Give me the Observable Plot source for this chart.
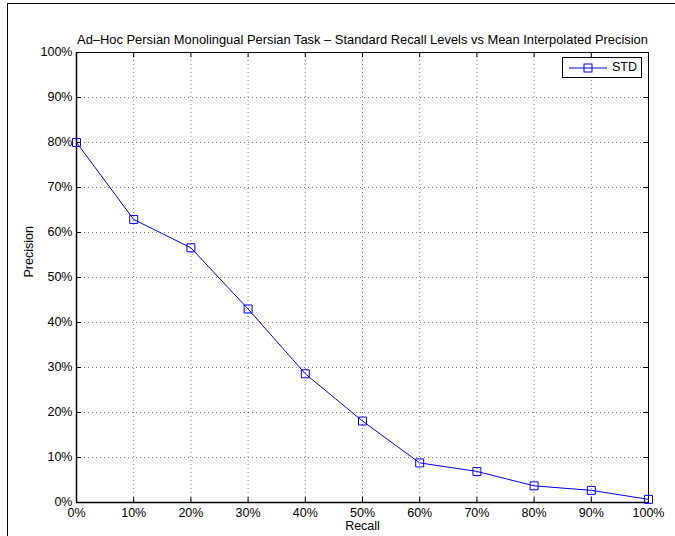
<!DOCTYPE html>
<html>
<head>
<meta charset="utf-8">
<script src="https://cdn.jsdelivr.net/npm/d3@7"></script>
<script src="https://cdn.jsdelivr.net/npm/@observablehq/plot@0.6"></script>
<style>
  html, body { margin: 0; padding: 0; background: #fff; overflow: hidden; }
  #wrap { position: relative; width: 675px; height: 536px; }
  #outer { position: absolute; left: 7px; top: 3px; width: 720px; height: 600px; border: 1px solid #000; box-sizing: border-box; pointer-events: none; }
  #legend { position: absolute; left: 562px; top: 57px; width: 80px; height: 21px; border: 1px solid #000; box-sizing: border-box; background: #fff; font: 12.5px "Liberation Sans", Arial, sans-serif; }
  #legend svg { position: absolute; left: 0; top: 0; }
  #legend span { position: absolute; left: 49px; top: 2px; }
</style>
</head>
<body>
<div id="wrap"><div id="outer"></div><div id="chart"></div>
<div id="legend"><svg width="48" height="19"><line x1="6" y1="10" x2="44" y2="10" stroke="#0000ff" stroke-width="1"/><rect x="21" y="6" width="8" height="8" fill="none" stroke="#0000ff" stroke-width="1"/></svg><span>STD</span></div>
</div>
<script>
const recall = [0, 10, 20, 30, 40, 50, 60, 70, 80, 90, 100];
const precision = [80.0, 62.9, 56.6, 43.0, 28.6, 18.1, 8.8, 6.9, 3.7, 2.7, 0.7];
const xTicks = [0, 10, 20, 30, 40, 50, 60, 70, 80, 90, 100];
const yTicks = [0, 10, 20, 30, 40, 50, 60, 70, 80, 90, 100];
const title = "Ad\u2013Hoc Persian Monolingual Persian Task \u2013 Standard Recall Levels vs Mean Interpolated Precision";

const data = recall.map((r, i) => ({recall: r, precision: precision[i]}));

const W = 675, H = 536;
const mL = 76, mR = 27, mT = 52, mB = 34;
const ph = H - mT - mB, pw = W - mL - mR;
const font = '"Liberation Sans", Arial, Helvetica, sans-serif';

const chart = Plot.plot({
  width: W, height: H,
  marginLeft: mL, marginRight: mR, marginTop: mT, marginBottom: mB,
  style: {fontFamily: font, fontSize: "12.5px", background: "#fff", color: "#000"},
  x: {domain: [0, 100], ticks: xTicks, label: null},
  y: {domain: [0, 100], ticks: yTicks, label: null},
  marks: [
    Plot.gridX(xTicks, {stroke: "#000", strokeOpacity: 0.5, strokeDasharray: "1,3"}),
    Plot.gridY(yTicks, {stroke: "#000", strokeOpacity: 0.5, strokeDasharray: "1,3"}),
    Plot.tickX(xTicks, {x: d => d, insetTop: ph - 5, stroke: "#000"}),
    Plot.tickX(xTicks, {x: d => d, insetBottom: ph - 5, stroke: "#000"}),
    Plot.tickY(yTicks, {y: d => d, insetRight: pw - 5, stroke: "#000"}),
    Plot.tickY(yTicks, {y: d => d, insetLeft: pw - 5, stroke: "#000"}),
    Plot.axisX(xTicks, {tickSize: 0, tickPadding: 6, tickFormat: d => d + "%", fontSize: 12.5, label: null}),
    Plot.axisY(yTicks, {tickSize: 0, tickPadding: 4, tickFormat: d => d + "%", fontSize: 12.5, label: null, dy: -1}),
    Plot.frame({stroke: "#000", strokeWidth: 1}),
    Plot.ruleX([0], {stroke: "#000", strokeWidth: 1.5}),
    Plot.ruleY([0], {stroke: "#000", strokeWidth: 1.5}),
    Plot.line(data, {x: "recall", y: "precision", stroke: "#0000ff", strokeWidth: 1}),
    Plot.dot(data, {x: "recall", y: "precision", symbol: "square", r: 4.5, stroke: "#0000ff", fill: "none", strokeWidth: 1}),
    Plot.text([title], {text: d => d, frameAnchor: "top", dy: -9, fontSize: 12.9, lineAnchor: "bottom", fill: "#000"}),
    Plot.text(["Recall"], {text: d => d, frameAnchor: "bottom", dy: 19, fontSize: 12.5, lineAnchor: "top", fill: "#000"}),
    Plot.text(["Precision"], {text: d => d, frameAnchor: "left", dx: -48, rotate: -90, fontSize: 12.5, fill: "#000"})
  ]
});
document.getElementById("chart").appendChild(chart);
</script>
</body>
</html>
